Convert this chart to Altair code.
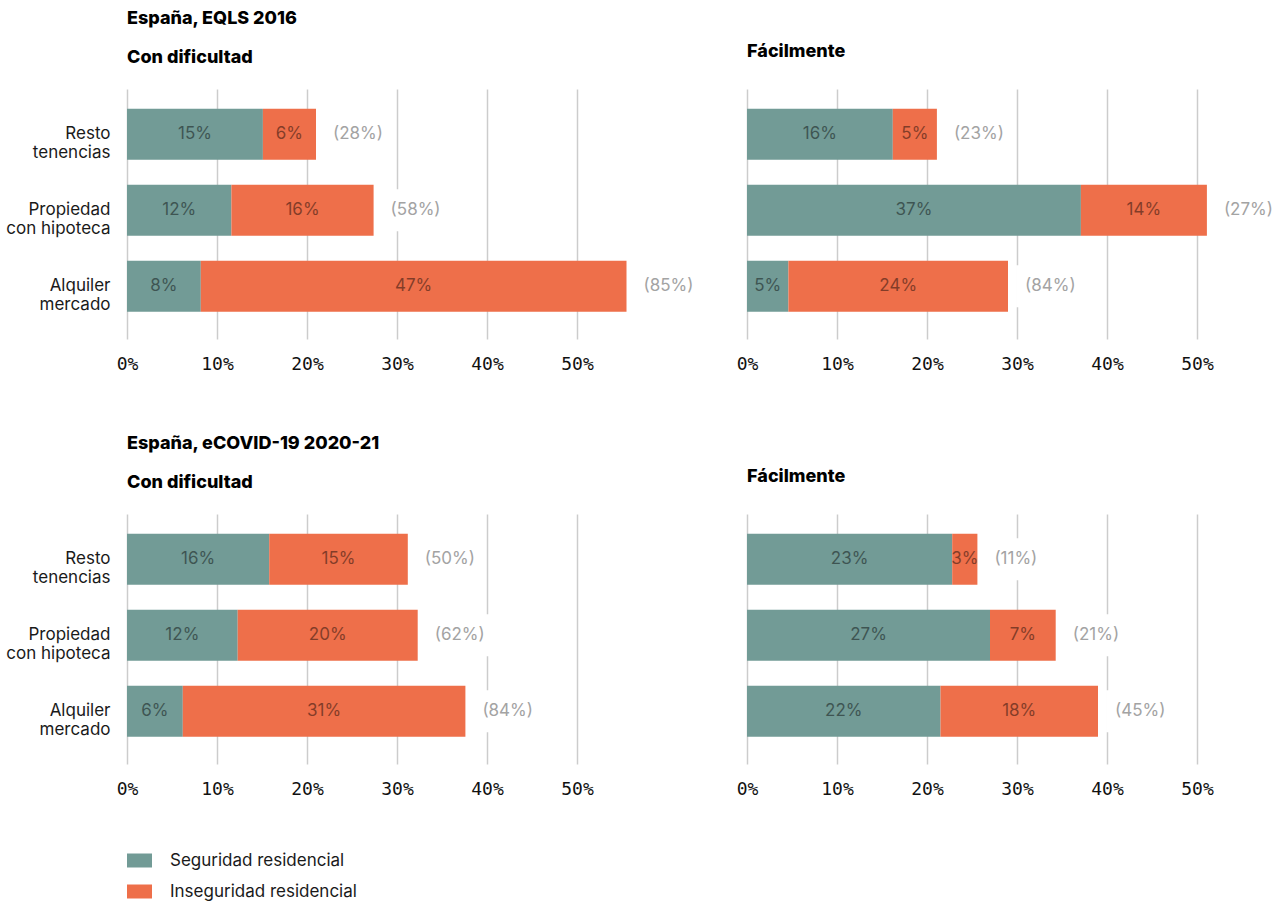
import altair as alt
import pandas as pd

# ---------------- data (values in %) ----------------
tenencias = ["Resto\ntenencias", "Propiedad\ncon hipoteca", "Alquiler\nmercado"]
series = ["Seguridad residencial", "Inseguridad residencial"]
colores = ["#729b96", "#ee6f4a"]

panel_keys = ["eqls_dif", "eqls_fac", "covid_dif", "covid_fac"]

seg_eqls_dif = [15.1, 11.6, 8.2]
inseg_eqls_dif = [5.9, 15.8, 47.3]
share_eqls_dif = ["(28%)", "(58%)", "(85%)"]

seg_eqls_fac = [16.2, 37.1, 4.6]
inseg_eqls_fac = [4.9, 14.0, 24.4]
share_eqls_fac = ["(23%)", "(27%)", "(84%)"]

seg_covid_dif = [15.8, 12.3, 6.2]
inseg_covid_dif = [15.4, 20.0, 31.4]
share_covid_dif = ["(50%)", "(62%)", "(84%)"]

seg_covid_fac = [22.8, 27.0, 21.5]
inseg_covid_fac = [2.8, 7.3, 17.5]
share_covid_fac = ["(11%)", "(21%)", "(45%)"]

x_ticks = [0, 10, 20, 30, 40, 50]

seg = dict(zip(panel_keys, [seg_eqls_dif, seg_eqls_fac, seg_covid_dif, seg_covid_fac]))
inseg = dict(zip(panel_keys, [inseg_eqls_dif, inseg_eqls_fac, inseg_covid_dif, inseg_covid_fac]))
share = dict(zip(panel_keys, [share_eqls_dif, share_eqls_fac, share_covid_dif, share_covid_fac]))

rows, tots = [], []
for k in panel_keys:
    for i, t in enumerate(tenencias):
        rows.append({"panel": k, "tenencia": t, "serie": series[0], "orden": 0, "valor": seg[k][i]})
        rows.append({"panel": k, "tenencia": t, "serie": series[1], "orden": 1, "valor": inseg[k][i]})
        tots.append({"panel": k, "tenencia": t, "total": seg[k][i] + inseg[k][i], "share": share[k][i]})
df = pd.DataFrame(rows)
tot = pd.DataFrame(tots)

# ---------------- styling ----------------
BODY_FONT = "Inter"
TITLE_FONT = "Inter"
TICK_FONT = "DejaVu Sans Mono"
BODY_SIZE = 17

xscale = alt.Scale(domain=[0, 50], nice=False, zero=True)
yscale = alt.Scale(domain=tenencias, paddingInner=0.33, paddingOuter=0.31, align=0.42)
cscale = alt.Scale(domain=series, range=colores)

xaxis = alt.Axis(values=x_ticks, labelExpr="datum.value + '%'", grid=True, gridColor="#cccccc",
                 gridWidth=1.5, domain=False, ticks=False, labelPadding=16, labelFont=TICK_FONT,
                 labelFontSize=18, labelColor="#111111", title=None, labelFlush=False)
yaxis = alt.Axis(labelExpr="split(datum.label, '\\n')", domain=False, ticks=False, grid=False,
                 labelPadding=17, labelFont=BODY_FONT, labelFontSize=BODY_SIZE, labelLineHeight=19,
                 labelColor="#1a1a1a", title=None, labelAlign="right", labelLimit=0)

legend = alt.Legend(orient="none", legendX=0, legendY=759, direction="vertical", title=None,
                    symbolType="M-1,-0.56H1V0.56H-1Z", symbolSize=625, symbolStrokeWidth=0,
                    labelFont=BODY_FONT, labelFontSize=BODY_SIZE, labelColor="#1a1a1a", labelOffset=18,
                    labelLimit=0, rowPadding=10)


def panel(key, title, show_y):
    d = df[df["panel"] == key]
    t = tot[tot["panel"] == key]
    y = alt.Y("tenencia:N", sort=tenencias, scale=yscale, axis=yaxis if show_y else None, title=None)

    box = alt.Chart(t).transform_calculate(
        b0="datum.total + 0.9", b1="datum.total + 8"
    ).mark_bar(color="white", size=42).encode(
        y=y, x=alt.X("b0:Q", scale=xscale, axis=xaxis), x2="b1:Q"
    )

    stacked = alt.Chart(d).transform_stack(
        stack="valor", as_=["x0", "x1"], groupby=["tenencia"], sort=[alt.SortField("orden")]
    ).transform_calculate(
        mid="(datum.x0 + datum.x1) / 2", label="format(datum.valor, '.0f') + '%'"
    )
    bars = stacked.mark_bar().encode(
        y=y,
        x=alt.X("x0:Q", scale=xscale, axis=xaxis),
        x2="x1:Q",
        color=alt.Color("serie:N", scale=cscale, legend=legend, sort=series),
    )
    inner = stacked.mark_text(font=BODY_FONT, fontSize=BODY_SIZE, color="#000000", opacity=0.45).encode(
        y=y, x=alt.X("mid:Q", scale=xscale, axis=xaxis), text="label:N"
    )
    outer = alt.Chart(t).mark_text(font=BODY_FONT, fontSize=BODY_SIZE, color="#a3a3a3", align="left", dx=17).encode(
        y=y, x=alt.X("total:Q", scale=xscale, axis=xaxis), text="share:N"
    )
    return alt.layer(box, bars, inner, outer).properties(width=450, height=250, title=title)


def ttl(text, offset):
    return alt.TitleParams(text=text, anchor="start", frame="group", font=TITLE_FONT, fontSize=18,
                           fontWeight=800, color="#000000", lineHeight=39, offset=offset)


p1 = panel("eqls_dif", ttl(["España, EQLS 2016", "Con dificultad"], 22), True)
p2 = panel("eqls_fac", ttl("Fácilmente", 28), False)
p3 = panel("covid_dif", ttl(["España, eCOVID-19 2020-21", "Con dificultad"], 22), True)
p4 = panel("covid_fac", ttl("Fácilmente", 28), False)

chart = alt.concat(p1, p2, p3, p4, columns=2, spacing={"row": 175, "column": 170}).properties(
    bounds="flush", padding={"left": 5, "top": 10, "right": 5, "bottom": 5}, background="white"
).configure_view(stroke=None)

chart.save("out.html", embed_options={"renderer": "svg", "actions": False})
